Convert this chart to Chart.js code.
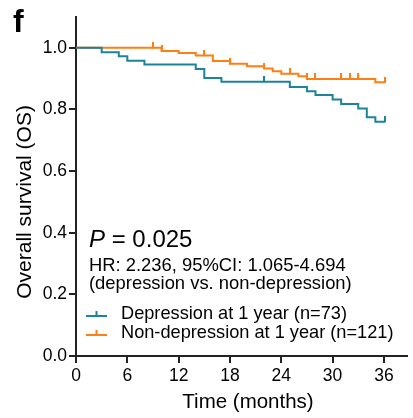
<!DOCTYPE html>
<html>
<head>
<meta charset="utf-8">
<script src="https://cdn.jsdelivr.net/npm/chart.js@4/dist/chart.umd.min.js"></script>
<style>
  html, body { margin: 0; padding: 0; background: #fff; }
  canvas { display: block; }
</style>
</head>
<body>
<canvas id="myChart" width="413" height="418"></canvas>
<script>
// Kaplan-Meier steps (time in months, survival)
const deprTimes = [0, 3, 5, 6, 8, 14, 15, 17, 25, 27, 28, 30, 31, 33, 34, 35, 36.1];
const deprSurv = [1.0, 0.986, 0.973, 0.958, 0.946, 0.931, 0.902, 0.890, 0.873, 0.859, 0.847, 0.832, 0.818, 0.803, 0.775, 0.760, 0.760];
const deprCensorTimes = [22, 36.1];
const deprCensorSurv = [0.890, 0.760];

const nonTimes = [0, 10, 12, 14, 16, 18, 20, 22, 23, 24, 26, 27, 35, 36.1];
const nonSurv = [1.0, 0.990, 0.983, 0.975, 0.957, 0.948, 0.940, 0.933, 0.924, 0.916, 0.908, 0.899, 0.888, 0.888];
const nonCensorTimes = [9, 10, 15, 18, 22, 25, 27, 28, 31, 32, 33, 36.1];
const nonCensorSurv = [1.0, 0.990, 0.975, 0.948, 0.933, 0.916, 0.899, 0.899, 0.899, 0.899, 0.899, 0.888];

const xTicks = [0, 6, 12, 18, 24, 30, 36];
const yTicks = [0, 0.2, 0.4, 0.6, 0.8, 1.0];

const TEAL = '#1b8499';
const ORANGE = '#ff7f12';
const FONT = '"Liberation Sans", Arial, sans-serif';

function toPoints(xs, ys) {
    return xs.map((x, i) => ({ x: x, y: ys[i] }));
}

// small vertical tick sitting on top of the point, used for censored cases
function censorMark(color) {
    const c = document.createElement('canvas');
    c.width = 2;
    c.height = 11;
    const g = c.getContext('2d');
    g.fillStyle = color;
    g.fillRect(0, 0, 2, 6);
    return c;
}

const textPlugin = {
    id: 'texts',
    afterDraw(chart) {
        const ctx = chart.ctx;
        const yScale = chart.scales.y;
        ctx.save();
        ctx.fillStyle = '#000';
        ctx.textBaseline = 'alphabetic';

        ctx.font = 'bold 32px ' + FONT;
        ctx.fillText('f', 13, 32);

        // P value
        ctx.font = 'italic 24px ' + FONT;
        ctx.fillText('P', 89, 247);
        const pw = ctx.measureText('P').width;
        ctx.font = '24px ' + FONT;
        ctx.fillText(' = 0.025', 89 + pw, 247);

        ctx.font = '18.4px ' + FONT;
        ctx.fillText('HR: 2.236, 95%CI: 1.065-4.694', 89, 271);
        ctx.fillText('(depression vs. non-depression)', 89, 289);

        // legend
        const legend = [
            { label: 'Depression at 1 year (n=73)', color: TEAL, y: 319 },
            { label: 'Non-depression at 1 year (n=121)', color: ORANGE, y: 338 }
        ];
        legend.forEach(item => {
            ctx.strokeStyle = item.color;
            ctx.lineWidth = 2;
            ctx.beginPath();
            ctx.moveTo(86, item.y - 3);
            ctx.lineTo(107, item.y - 3);
            ctx.moveTo(96.5, item.y - 3);
            ctx.lineTo(96.5, item.y - 8);
            ctx.stroke();
            ctx.fillStyle = '#000';
            ctx.font = '18.2px ' + FONT;
            ctx.fillText(item.label, 121, item.y);
        });

        // axis titles
        ctx.font = '20.5px ' + FONT;
        ctx.textAlign = 'center';
        ctx.fillText('Time (months)', 248, 408);

        const yMid = (yScale.getPixelForValue(0) + yScale.getPixelForValue(1)) / 2;
        ctx.font = '21px ' + FONT;
        ctx.translate(31, yMid);
        ctx.rotate(-Math.PI / 2);
        ctx.fillText('Overall survival (OS)', 0, 0);
        ctx.restore();
    }
};

const axisColor = '#222';

new Chart(document.getElementById('myChart'), {
    type: 'line',
    data: {
        datasets: [
            {
                label: 'Depression at 1 year (n=73)',
                data: toPoints(deprTimes, deprSurv),
                borderColor: TEAL,
                borderWidth: 2,
                stepped: 'before',
                pointRadius: 0,
                fill: false
            },
            {
                label: 'Depression censored',
                data: toPoints(deprCensorTimes, deprCensorSurv),
                showLine: false,
                pointStyle: censorMark(TEAL),
                pointRadius: 5
            },
            {
                label: 'Non-depression at 1 year (n=121)',
                data: toPoints(nonTimes, nonSurv),
                borderColor: ORANGE,
                borderWidth: 2,
                stepped: 'before',
                pointRadius: 0,
                fill: false
            },
            {
                label: 'Non-depression censored',
                data: toPoints(nonCensorTimes, nonCensorSurv),
                showLine: false,
                pointStyle: censorMark(ORANGE),
                pointRadius: 5
            }
        ]
    },
    options: {
        responsive: false,
        animation: false,
        devicePixelRatio: 1,
        layout: { padding: { top: 17, left: 0, right: 0, bottom: 0 } },
        plugins: {
            legend: { display: false },
            tooltip: { enabled: false }
        },
        scales: {
            x: {
                type: 'linear',
                min: 0,
                max: 38.7,
                afterBuildTicks: scale => { scale.ticks = xTicks.map(v => ({ value: v })); },
                afterFit: scale => { scale.height = 62; },
                ticks: {
                    stepSize: 6,
                    autoSkip: false,
                    maxRotation: 0,
                    color: '#000',
                    padding: 3,
                    font: { family: FONT, size: 17.5 }
                },
                grid: { drawOnChartArea: false, drawTicks: true, tickLength: 7, color: axisColor, lineWidth: 2 },
                border: { color: axisColor, width: 2 }
            },
            y: {
                min: 0,
                max: 1.1,
                afterBuildTicks: scale => { scale.ticks = yTicks.map(v => ({ value: v })); },
                afterFit: scale => { scale.width = 76; },
                ticks: {
                    color: '#000',
                    padding: 2,
                    font: { family: FONT, size: 17.5 },
                    callback: v => v.toFixed(1)
                },
                grid: { drawOnChartArea: false, drawTicks: true, tickLength: 7, color: axisColor, lineWidth: 2 },
                border: { color: axisColor, width: 2 }
            }
        }
    },
    plugins: [textPlugin]
});
</script>
</body>
</html>
